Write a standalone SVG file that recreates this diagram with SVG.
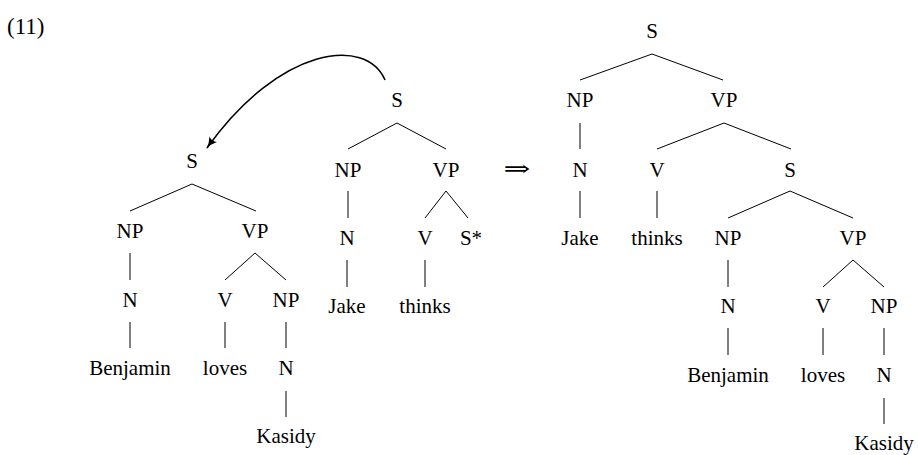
<svg xmlns="http://www.w3.org/2000/svg" width="918" height="455" viewBox="0 0 918 455">
<defs>
<style>
text{font-family:"Liberation Serif","Times New Roman",serif;font-size:21px;fill:#000;text-anchor:middle}
.e line{stroke:#000;stroke-width:1}
</style>
<marker id="ah" viewBox="0 0 12 10" refX="11" refY="5" markerWidth="12" markerHeight="10" markerUnits="userSpaceOnUse" orient="auto">
<path d="M0,0 Q5,4 12,5 Q5,6 0,10 Q3,5 0,0 Z" fill="#000"/>
</marker>
</defs>
<rect width="918" height="455" fill="#fff"/>
<text id="label" x="7" y="34" style="text-anchor:start;font-size:23px">(11)</text>

<g id="connectors" class="e">
<!-- left tree -->
<line x1="192" y1="184" x2="130" y2="211"/>
<line x1="192" y1="184" x2="256" y2="211"/>
<line x1="130" y1="253" x2="130" y2="280"/>
<line x1="255" y1="253" x2="225" y2="280"/>
<line x1="255" y1="253" x2="286" y2="280"/>
<line x1="130" y1="322" x2="130" y2="348"/>
<line x1="225" y1="322" x2="225" y2="348"/>
<line x1="286" y1="322" x2="286" y2="348"/>
<line x1="286" y1="391" x2="286" y2="417"/>
<!-- middle tree -->
<line x1="397" y1="123" x2="348" y2="149"/>
<line x1="397" y1="123" x2="446" y2="149"/>
<line x1="348" y1="191" x2="348" y2="218"/>
<line x1="446" y1="191" x2="425" y2="218"/>
<line x1="446" y1="191" x2="468" y2="218"/>
<line x1="347" y1="260" x2="347" y2="287"/>
<line x1="425" y1="260" x2="425" y2="287"/>
<!-- right tree -->
<line x1="652" y1="54" x2="580" y2="80"/>
<line x1="652" y1="54" x2="723" y2="80"/>
<line x1="580" y1="123" x2="580" y2="149"/>
<line x1="724" y1="123" x2="657" y2="149"/>
<line x1="724" y1="123" x2="791" y2="149"/>
<line x1="580" y1="191" x2="580" y2="218"/>
<line x1="657" y1="191" x2="657" y2="218"/>
<line x1="790" y1="191" x2="728" y2="218"/>
<line x1="790" y1="191" x2="853" y2="218"/>
<line x1="728" y1="260" x2="728" y2="287"/>
<line x1="853" y1="260" x2="823" y2="287"/>
<line x1="853" y1="260" x2="884" y2="287"/>
<line x1="728" y1="328" x2="728" y2="355"/>
<line x1="823" y1="328" x2="823" y2="355"/>
<line x1="884" y1="328" x2="884" y2="355"/>
<line x1="884" y1="398" x2="884" y2="424"/>
<!-- substitution arrow -->
<path id="arrow" d="M385,80 C366,36 280,46 207,148" fill="none" stroke="#000" stroke-width="1.5" marker-end="url(#ah)"/>
</g>

<g id="tree-left">
<g id="l-S"><text x="192" y="168">S</text></g>
<g id="l-NP"><text x="130" y="238">NP</text></g>
<g id="l-VP"><text x="255" y="238">VP</text></g>
<g id="l-N"><text x="130" y="307">N</text></g>
<g id="l-V"><text x="225" y="307">V</text></g>
<g id="l-NP2"><text x="286" y="307">NP</text></g>
<g id="l-Benjamin"><text x="130" y="375">Benjamin</text></g>
<g id="l-loves"><text x="225" y="375">loves</text></g>
<g id="l-N2"><text x="286" y="375">N</text></g>
<g id="l-Kasidy"><text x="286" y="443">Kasidy</text></g>
</g>

<g id="tree-mid">
<g id="m-S"><text x="397" y="107">S</text></g>
<g id="m-NP"><text x="348" y="177">NP</text></g>
<g id="m-VP"><text x="446" y="177">VP</text></g>
<g id="m-N"><text x="347" y="245">N</text></g>
<g id="m-V"><text x="425" y="245">V</text></g>
<g id="m-Sstar"><text x="471" y="245">S*</text></g>
<g id="m-Jake"><text x="347" y="313">Jake</text></g>
<g id="m-thinks"><text x="425" y="313">thinks</text></g>
</g>

<g id="implies"><text x="517" y="176" textLength="27" lengthAdjust="spacingAndGlyphs" style="font-family:'DejaVu Serif','DejaVu Sans',serif;font-size:22px">⇒</text></g>

<g id="tree-right">
<g id="r-S"><text x="652" y="38">S</text></g>
<g id="r-NP"><text x="580" y="107">NP</text></g>
<g id="r-VP"><text x="724" y="107">VP</text></g>
<g id="r-N"><text x="580" y="177">N</text></g>
<g id="r-V"><text x="657" y="177">V</text></g>
<g id="r-S2"><text x="790" y="177">S</text></g>
<g id="r-Jake"><text x="580" y="245">Jake</text></g>
<g id="r-thinks"><text x="657" y="245">thinks</text></g>
<g id="r-NP2"><text x="728" y="245">NP</text></g>
<g id="r-VP2"><text x="853" y="245">VP</text></g>
<g id="r-N2"><text x="728" y="313">N</text></g>
<g id="r-V2"><text x="823" y="313">V</text></g>
<g id="r-NP3"><text x="884" y="313">NP</text></g>
<g id="r-Benjamin"><text x="728" y="382">Benjamin</text></g>
<g id="r-loves"><text x="823" y="382">loves</text></g>
<g id="r-N3"><text x="884" y="382">N</text></g>
<g id="r-Kasidy"><text x="884" y="450">Kasidy</text></g>
</g>
</svg>
